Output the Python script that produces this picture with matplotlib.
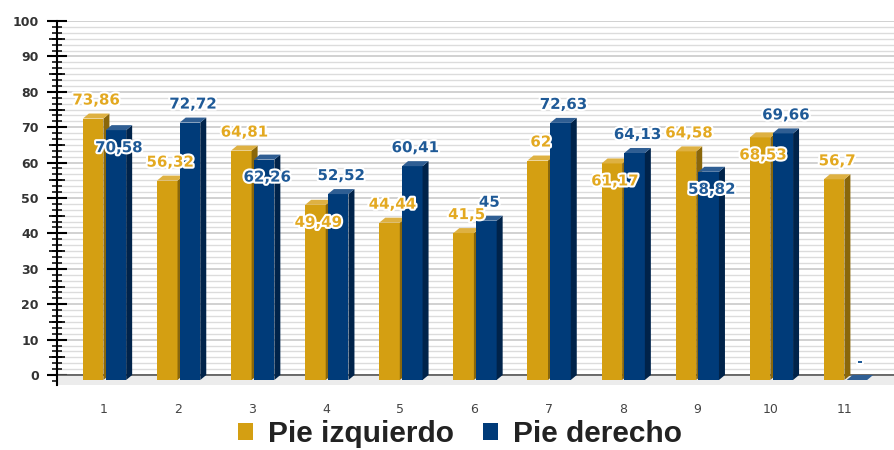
import numpy as np
import matplotlib
matplotlib.use("Agg")
import matplotlib.pyplot as plt
from matplotlib.patches import Rectangle, Polygon, Patch
from matplotlib.ticker import MultipleLocator, AutoMinorLocator
import matplotlib.patheffects as pe
import matplotlib.transforms as mtrans

# ---------------- data ----------------
categories = ["1", "2", "3", "4", "5", "6", "7", "8", "9", "10", "11"]
izquierdo = [73.86, 56.32, 64.81, 49.49, 44.44, 41.5, 62, 61.17, 64.58, 68.53, 56.7]
derecho = [70.58, 72.72, 62.26, 52.52, 60.41, 45, 72.63, 64.13, 58.82, 69.66, np.nan]
series_names = ["Pie izquierdo", "Pie derecho"]
# label placement: True -> label drawn below the bar top (collision avoided)
izq_label_below = [False, False, False, True, False, False, False, True, False, True, False]
der_label_below = [True, False, True, False, False, False, False, False, True, False, False]

# ---------------- style ----------------
gold = dict(front="#D49F12", side="#8A670A", top="#DEB142", text="#E3A921")
blue = dict(front="#003B79", side="#00234A", top="#2F5E93", text="#1F5A97")

W_PX, H_PX = 894, 450
fig = plt.figure(figsize=(W_PX / 100, H_PX / 100), dpi=100)

ax_left, ax_right = 57, 894
y0_px, y100_px = 375, 21
ppu_y = (y0_px - y100_px) / 100.0
ymin = -(384.5 - y0_px) / ppu_y
ymax = 100 + 0.0
ax_top_px = y100_px
ax_bot_px = y0_px + (0 - ymin) * ppu_y
ax = fig.add_axes([ax_left / W_PX, 1 - ax_bot_px / H_PX,
                   (ax_right - ax_left) / W_PX, (ax_bot_px - ax_top_px) / H_PX])

n = len(categories)
xpos = np.arange(1, n + 1)
cat_px = 74.1
x_first_px = 104
ax.set_xlim(1 - (x_first_px - ax_left) / cat_px, 1 + (ax_right - x_first_px) / cat_px)
ax.set_ylim(ymin, ymax)

dx = 6 / cat_px
dy = 5 / ppu_y
w = 0.277


def bar3d(xl, val, c, z):
    ax.add_patch(Rectangle((xl, -dy), w, val, facecolor=c["front"], edgecolor="none", zorder=z))
    ax.add_patch(Polygon([(xl + w, -dy), (xl + w + dx, 0), (xl + w + dx, val), (xl + w, val - dy)],
                         closed=True, facecolor=c["side"], edgecolor="none", zorder=z))
    ax.add_patch(Polygon([(xl, val - dy), (xl + dx, val), (xl + w + dx, val), (xl + w, val - dy)],
                         closed=True, facecolor=c["top"], edgecolor="none", zorder=z))


def fmt(v):
    if v is None or (isinstance(v, float) and np.isnan(v)):
        return "-"
    return f"{v:g}".replace(".", ",")


# floor
ax.fill_between([ax.get_xlim()[0], ax.get_xlim()[1]], ymin, 0, color="#ececec", zorder=1, lw=0)
ax.axhline(0, color="#555555", lw=1.2, zorder=2)

for i, x in enumerate(xpos):
    vi = izquierdo[i]
    vd = derecho[i]
    vd_h = 0 if np.isnan(vd) else vd
    bar3d(x - 0.285, vi, gold, 3 + i * 0.01)
    bar3d(x + 0.022, vd_h, blue, 3.005 + i * 0.01)

for i, x in enumerate(xpos):
    vi = izquierdo[i]
    vd = derecho[i]
    vd_h = 0 if np.isnan(vd) else vd
    for val, lab, below, xc, c in [
        (vi, fmt(vi), izq_label_below[i], x - 0.285 + (w + dx) / 2, gold),
        (vd_h, fmt(vd), der_label_below[i], x + 0.022 + (w + dx) / 2, blue),
    ]:
        yc = val - 21 / ppu_y if below else val + 15 / ppu_y
        ax.text(xc, yc, lab, ha="center", va="center_baseline", fontsize=10.8,
                fontweight="bold", color=c["text"], family="DejaVu Sans", zorder=10,
                path_effects=[pe.withStroke(linewidth=3, foreground="white")])

# axes styling
for s in ["top", "right", "bottom"]:
    ax.spines[s].set_visible(False)
ax.spines["left"].set_color("black")
ax.spines["left"].set_linewidth(1.5)
ax.spines["left"].set_zorder(5)

ax.yaxis.set_major_locator(MultipleLocator(10))
ax.yaxis.set_minor_locator(AutoMinorLocator(6))
ax.tick_params(axis="y", which="major", direction="inout", length=14, width=1.5,
               color="black", pad=6, labelsize=9, labelcolor="#333333")
ax.tick_params(axis="y", which="minor", direction="inout", length=7, width=1.1, color="black")
for t in ax.get_yticklabels():
    t.set_fontweight("bold")

# medium ticks at the fives
fives = np.arange(5, 100, 10)
trans = mtrans.blended_transform_factory(ax.transAxes, ax.transData)
ax.plot(np.zeros_like(fives), fives, linestyle="none", marker="_", markersize=11,
        markeredgewidth=1.2, color="black", transform=trans, clip_on=False, zorder=6)

ax.set_xticks(xpos)
ax.set_xticklabels(categories)
ax.tick_params(axis="x", length=0, pad=13, labelsize=9, labelcolor="#444444")

ax.grid(axis="y", which="major", color="#c9c9c9", lw=1.2, zorder=0)
ax.grid(axis="y", which="minor", color="#dcdcdc", lw=1.0, zorder=0)
ax.set_axisbelow(True)

handles = [Patch(facecolor=gold["front"], edgecolor="none"),
           Patch(facecolor=blue["front"], edgecolor="none")]
fig.legend(handles, series_names, loc="center", bbox_to_anchor=(460 / W_PX, 1 - 434.5 / H_PX),
           ncol=2, frameon=False, prop=dict(family="Liberation Sans", weight="bold", size=21.5),
           labelcolor="#222222", handlelength=0.5, handleheight=0.5, handletextpad=0.5,
           columnspacing=0.95, borderpad=0, borderaxespad=0)

fig.savefig("out.png", dpi=100)
